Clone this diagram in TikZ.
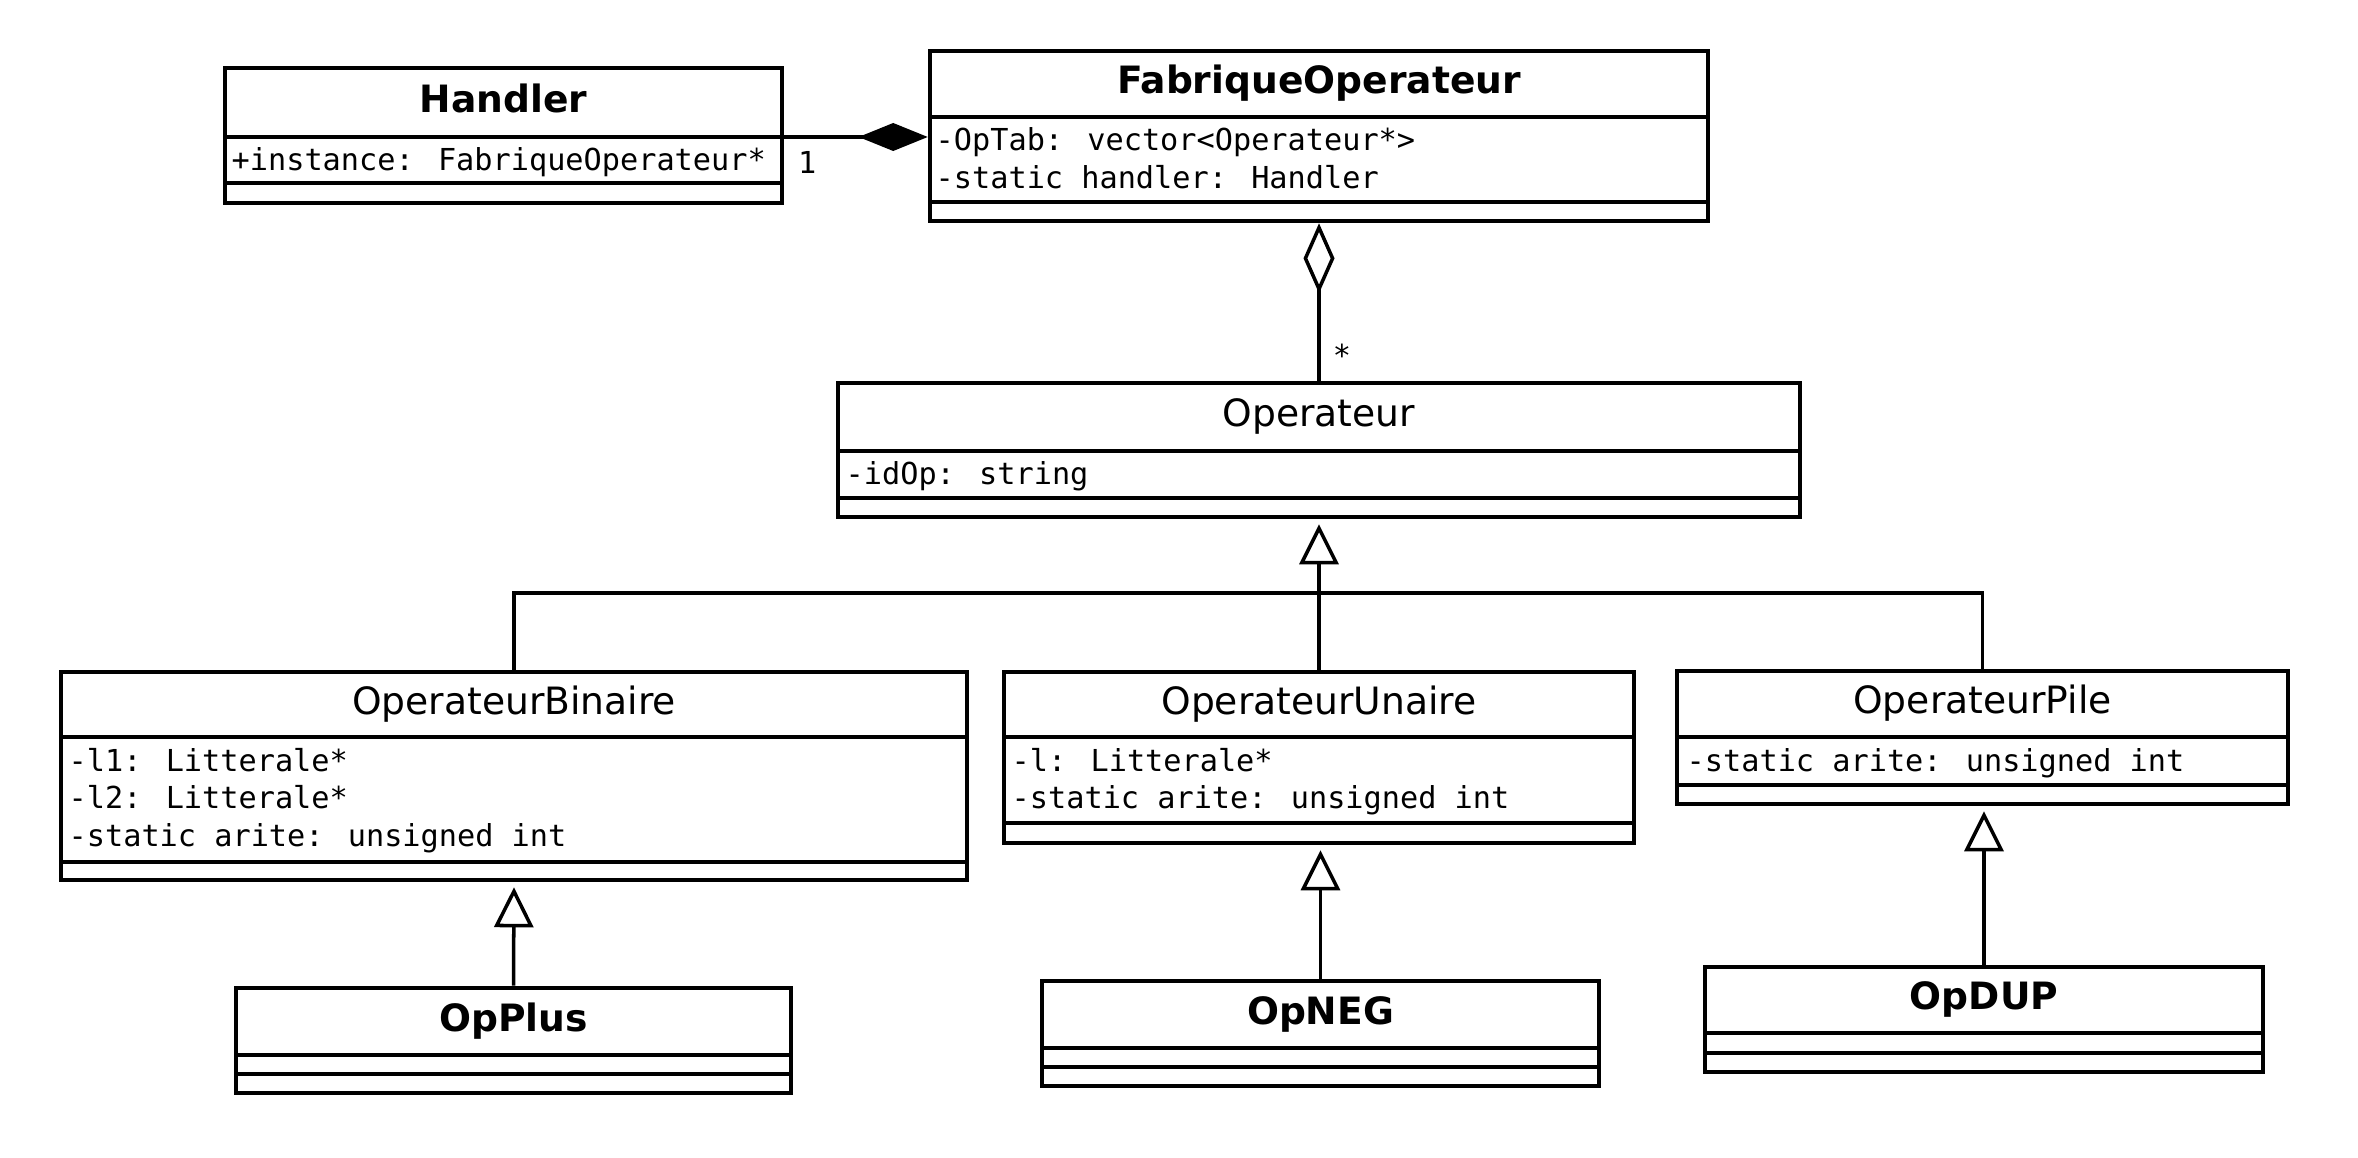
\documentclass[tikz,border=0pt]{standalone}
\usepackage{fontspec}
\setmainfont{DejaVu Sans}
\newfontfamily\attrfont{DejaVu Sans Mono}
\usetikzlibrary{arrows.meta,fit}

\tikzset{
	classbox/.style={draw, line width=1.3pt, inner sep=0pt},
	divider/.style={line width=1.3pt},
	classname/.style={anchor=mid, inner sep=0pt, font=\fontsize{10.7}{12.8}\selectfont},
	classnamebold/.style={classname, font=\fontsize{10.7}{12.8}\selectfont\bfseries},
	attr/.style={anchor=base west, inner sep=0pt, font=\attrfont\fontsize{8.6}{10.6}\selectfont},
	mult/.style={attr, anchor=north west},
	assoc/.style={line width=1pt},
	inherit/.style={assoc, -{Triangle[open, length=0.40cm, width=0.39cm]}, shorten >=0.05cm},
	aggreg/.style={assoc, -{Diamond[open, length=0.70cm, width=0.31cm]}},
	compos/.style={assoc, -{Diamond[length=0.69cm, width=0.28cm]}},
}

% class box: name, left, top, right, bottom, first divider, second divider
\newcommand{\umlclass}[7]{
	\node[classbox, fit={(#2,#3) (#4,#5)}] (#1) {};
	\coordinate (#1-d1) at (#2,#6);
	\coordinate (#1-d2) at (#2,#7);
	\draw[divider] (#1-d1) -- (#4,#6);
	\draw[divider] (#1-d2) -- (#4,#7);
}
% attributes: name, x, first baseline, list
\newcommand{\umlattrs}[4]{
	\foreach \attrtext [count=\k] in {#4}
		\node[attr] (#1-a\k) at (#2,{#3+37.5*(\k-1)}) {\attrtext};
}

\begin{document}
\begin{tikzpicture}[x=0.01cm, y=-0.01cm]
	\useasboundingbox[fill=white] (0,0) rectangle (2358,1158);

	\umlclass{handler}{225}{68}{782}{203}{137}{183}
	\node[classnamebold] (handler-title) at (503.5,102.5) {Handler};
	\umlattrs{handler}{231}{171}{+instance: FabriqueOperateur*}

	\umlclass{fabrique}{930}{51}{1708}{221}{117}{202}
	\node[classnamebold] (fabrique-title) at (1319,84) {FabriqueOperateur};
	\umlattrs{fabrique}{935}{151}{-OpTab: vector<Operateur*>, -static handler: Handler}

	\umlclass{operateur}{838}{383}{1800}{517}{451}{498}
	\node[classname] (operateur-title) at (1319,417) {Operateur};
	\umlattrs{operateur}{845}{485}{-idOp: string}

	\umlclass{binaire}{61}{672}{967}{880}{737}{862}
	\node[classname] (binaire-title) at (514,704.5) {OperateurBinaire};
	\umlattrs{binaire}{68}{771}{-l1: Litterale*, -l2: Litterale*, -static arite: unsigned int}

	\umlclass{unaire}{1004}{672}{1634}{843}{737}{823}
	\node[classname] (unaire-title) at (1319,704.5) {OperateurUnaire};
	\umlattrs{unaire}{1011}{771}{-l: Litterale*, -static arite: unsigned int}

	\umlclass{pile}{1677}{671}{2288}{804}{737}{785}
	\node[classname] (pile-title) at (1982.5,704) {OperateurPile};
	\umlattrs{pile}{1686}{771}{-static arite: unsigned int}

	\umlclass{opplus}{236}{988}{791}{1093}{1055}{1074}
	\node[classnamebold] (opplus-title) at (513.5,1021.5) {OpPlus};

	\umlclass{opneg}{1042}{981}{1599}{1086}{1048}{1067}
	\node[classnamebold] (opneg-title) at (1320.5,1014.5) {OpNEG};

	\umlclass{opdup}{1705}{967}{2263}{1072}{1033}{1053}
	\node[classnamebold] (opdup-title) at (1984,1000) {OpDUP};

	\draw[compos] (handler.east |- handler-d1) -- node[mult, pos=0, xshift=0.12cm, yshift=-0.13cm] (handler-mult) {1} (fabrique.west |- handler-d1);
	\draw[aggreg] (operateur.north) -- node[mult, pos=0.16, anchor=west, xshift=0.12cm] (operateur-mult) {*} (fabrique.south);

	\coordinate (junction) at (1319,593);
	\draw[assoc] (binaire.north) |- (junction) -| (pile.north);
	\draw[inherit] (unaire.north) -- (operateur.south);
	\draw[inherit] (opplus.north) -- (binaire.south);
	\draw[inherit] (opneg.north) -- (opneg.north |- unaire.south);
	\draw[inherit] (opdup.north) -- (opdup.north |- pile.south);
\end{tikzpicture}
\end{document}
